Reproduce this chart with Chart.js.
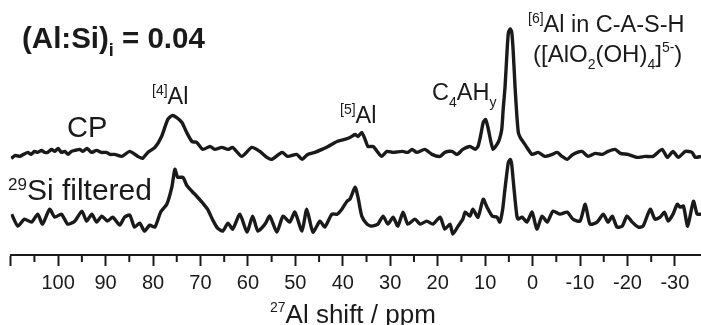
<!DOCTYPE html>
<html>
<head>
<meta charset="utf-8">
<script src="https://cdn.jsdelivr.net/npm/chart.js@4.4.0/dist/chart.umd.min.js"></script>
<style>
html, body { margin: 0; padding: 0; background: #fff; }
</style>
</head>
<body>
<canvas id="nmr" width="701" height="325"></canvas>
<script>
// 27Al MAS NMR, (Al:Si)i = 0.04
var cpShift = [109.9,109.0,108.1,107.3,106.4,105.7,105.0,104.3,103.5,102.8,
  102.2,101.4,100.7,100.0,99.3,98.6,97.9,97.2,96.5,95.4,
  94.8,93.9,93.0,91.9,90.9,89.8,89.1,88.1,86.6,84.9,
  83.2,82.2,81.1,79.6,78.2,76.9,76.0,75.0,73.9,72.9,
  71.8,70.8,69.5,68.0,67.0,65.5,64.2,63.2,61.3,59.2,
  57.5,56.0,55.0,52.8,51.6,49.7,48.6,47.4,45.9,44.4,
  43.1,41.2,39.6,38.5,37.4,36.8,36.0,35.3,34.7,33.6,
  32.6,31.8,30.7,29.4,27.5,26.3,25.4,24.4,22.7,21.2,
  19.5,18.5,17.0,15.9,14.7,13.2,12.1,11.5,10.9,10.4,
  9.9,9.4,8.8,8.3,7.5,7.0,6.5,6.2,5.8,5.4,
  5.1,4.7,4.4,4.1,3.7,3.3,3.0,2.6,1.9,1.2,
  0.1,-1.2,-2.6,-4.1,-5.2,-6.2,-7.3,-8.5,-10.4,-11.7,
  -13.2,-14.7,-15.9,-17.4,-18.5,-20.1,-22.0,-23.7,-25.4,-27.3,
  -28.4,-29.6,-30.7,-32.2,-33.6,-34.3,-35.5];
var cpIntensity = [97,100,99,101,103,101,104,103,105,103,
  103,106,104,107,103,104,101,104,105,106,
  104,107,103,105,103,103,101,101,99,104,
  99,97,103,108,119,136,140,138,133,123,
  114,113,106,109,106,108,106,108,99,108,
  104,98,96,103,99,101,96,101,103,106,
  109,114,116,118,121,119,123,116,109,109,
  103,99,104,103,104,103,106,103,106,101,
  99,103,104,101,106,109,106,109,121,133,
  136,128,114,106,111,116,126,146,169,203,
  223,227,224,206,169,139,123,118,113,108,
  101,103,99,101,103,99,96,101,104,99,
  102,101,104,106,102,101,98,99,99,106,
  98,104,98,104,103,98,99];

var siShift = [109.8,108.5,107.1,105.6,104.3,103.3,101.8,100.7,99.3,98.0,
  96.5,95.0,94.0,92.9,91.9,90.8,89.6,88.5,87.0,86.0,
  84.9,83.9,82.8,81.8,80.7,79.6,78.4,77.1,76.0,75.4,
  74.8,73.7,72.9,71.8,70.8,69.5,68.5,67.4,66.4,65.3,
  64.2,63.2,61.7,60.2,59.0,57.9,56.4,55.4,53.9,52.6,
  51.2,50.1,48.6,47.6,46.3,44.8,43.8,42.3,41.2,40.2,
  39.1,38.5,37.4,36.8,36.0,34.9,33.9,32.6,31.5,30.5,
  29.4,28.4,27.3,26.3,24.8,23.7,22.3,21.0,19.5,18.5,
  17.4,16.8,15.7,14.7,14.2,13.2,12.6,11.5,10.4,9.6,
  8.5,7.5,6.9,6.3,5.9,5.4,5.1,4.7,4.4,4.1,
  3.7,3.3,3.0,2.2,1.2,0.1,-0.9,-2.0,-3.1,-4.3,
  -5.8,-7.3,-8.5,-10.0,-11.1,-12.1,-13.6,-14.9,-15.9,-16.8,
  -17.8,-18.9,-19.9,-21.0,-22.3,-23.3,-24.8,-25.8,-26.9,-27.8,
  -28.6,-29.6,-30.5,-31.1,-31.8,-32.7,-33.9,-34.7,-35.5];
var siIntensity = [41,29,36,33,41,31,46,38,41,31,
  34,44,34,41,33,39,34,38,30,38,
  40,28,32,24,30,28,43,51,69,86,
  78,78,70,64,59,52,46,35,27,24,
  32,26,41,23,39,24,31,39,23,39,
  33,43,24,46,23,34,28,41,41,46,
  54,56,68,58,39,31,29,31,39,31,
  38,29,43,31,36,31,34,31,38,26,
  31,21,29,36,43,39,46,38,56,48,
  39,38,33,46,63,83,93,96,91,76,
  56,39,36,38,33,43,26,39,33,44,
  41,43,36,34,51,31,33,41,33,39,
  28,29,39,33,28,29,46,36,38,43,
  34,41,51,48,49,29,54,41,41];

var majorTicks = [110,100,90,80,70,60,50,40,30,20,10,0,-10,-20,-30];
var tickLabels = ['','100','90','80','70','60','50','40','30','20','10','0','-10','-20','-30'];
var minorTicks = [105,95,85,75,65,55,45,35,25,15,5,-5,-15,-25];

var INK = '#1a1a1a';
var FONT = "'Liberation Sans', Arial, Helvetica, sans-serif";

function toPoints(xs, ys) {
  var pts = [];
  for (var i = 0; i < xs.length; i++) pts.push({x: xs[i], y: ys[i]});
  return pts;
}

function rich(ctx, x, y, parts) {
  for (var i = 0; i < parts.length; i++) {
    var p = parts[i];
    ctx.font = (p.b ? 'bold ' : '') + p.s + 'px ' + FONT;
    ctx.fillText(p.t, x, y + (p.dy || 0));
    x += ctx.measureText(p.t).width;
  }
}

var extras = {
  id: 'extras',
  afterDraw: function(chart) {
    var ctx = chart.ctx;
    var xs = chart.scales.x;
    var bottom = chart.chartArea.bottom;
    ctx.save();
    // minor ticks
    ctx.strokeStyle = INK;
    ctx.lineWidth = 2;
    for (var i = 0; i < minorTicks.length; i++) {
      var px = xs.getPixelForValue(minorTicks[i]);
      ctx.beginPath();
      ctx.moveTo(px, bottom);
      ctx.lineTo(px, bottom + 7);
      ctx.stroke();
    }
    ctx.fillStyle = INK;
    ctx.textBaseline = 'alphabetic';
    ctx.textAlign = 'left';
    rich(ctx, 22, 48, [{t: '(Al:Si)', s: 29.5, b: 1}, {t: 'i', s: 18, b: 1, dy: 8}, {t: ' = 0.04', s: 29.5, b: 1}]);
    rich(ctx, 152, 104, [{t: '[4]', s: 14, dy: -9}, {t: 'Al', s: 23.5}]);
    rich(ctx, 340, 123, [{t: '[5]', s: 14, dy: -9}, {t: 'Al', s: 23.5}]);
    rich(ctx, 432, 100, [{t: 'C', s: 23.5}, {t: '4', s: 14, dy: 7}, {t: 'AH', s: 23.5}, {t: 'y', s: 14, dy: 7}]);
    rich(ctx, 528, 32, [{t: '[6]', s: 14, dy: -9}, {t: 'Al in C-A-S-H', s: 23.5}]);
    rich(ctx, 533, 62, [{t: '([AlO', s: 24}, {t: '2', s: 14, dy: 7}, {t: '(OH)', s: 24},
      {t: '4', s: 14, dy: 7}, {t: ']', s: 24}, {t: '5-', s: 14, dy: -10}, {t: ')', s: 24}]);
    rich(ctx, 67, 137, [{t: 'CP', s: 29}]);
    rich(ctx, 8, 200, [{t: '29', s: 17, dy: -10}, {t: 'Si filtered', s: 30}]);
    rich(ctx, 270, 323, [{t: '27', s: 14, dy: -11}, {t: 'Al shift / ppm', s: 26}]);
    ctx.restore();
  }
};

var ctx = document.getElementById('nmr');
var chart = new Chart(ctx, {
  type: 'line',
  data: {
    datasets: [{
      label: 'CP',
      data: toPoints(cpShift, cpIntensity),
      borderColor: INK,
      borderWidth: 3.4,
      pointRadius: 0,
      tension: 0.2,
      fill: false
    }, {
      label: '29Si filtered',
      data: toPoints(siShift, siIntensity),
      borderColor: INK,
      borderWidth: 3.4,
      pointRadius: 0,
      tension: 0.2,
      fill: false
    }]
  },
  options: {
    responsive: false,
    animation: false,
    devicePixelRatio: 1,
    layout: { padding: { left: 10.7, right: 0, top: 0, bottom: 30 } },
    plugins: { legend: { display: false }, tooltip: { enabled: false } },
    scales: {
      x: {
        type: 'linear',
        reverse: true,
        min: -35.5,
        max: 110,
        afterBuildTicks: function(scale) {
          scale.ticks = majorTicks.map(function(v) { return {value: v}; });
        },
        afterFit: function(scale) { scale.height = 40; },
        ticks: {
          autoSkip: false,
          maxRotation: 0,
          padding: 5,
          color: INK,
          font: { family: FONT, size: 20 },
          callback: function(v) { return tickLabels[majorTicks.indexOf(v)]; }
        },
        grid: { drawOnChartArea: false, drawTicks: true, tickLength: 11, tickWidth: 2, tickColor: INK },
        border: { display: true, color: INK, width: 2 }
      },
      y: { display: false, min: 0, max: 256 }
    }
  },
  plugins: [extras]
});
</script>
</body>
</html>
